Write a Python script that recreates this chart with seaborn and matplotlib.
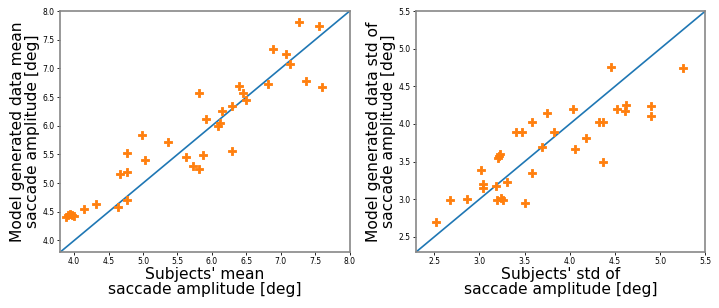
import numpy as np
import pandas as pd
import seaborn as sns
import matplotlib.pyplot as plt

# subject vs model: mean saccade amplitude [deg]
mean_subj = [3.88, 3.91, 3.94, 3.97, 4.00, 4.14, 4.31, 4.64, 4.76, 4.66,
             4.77, 4.77, 5.03, 4.98, 5.36, 5.62, 5.72, 5.82, 5.87, 5.81,
             5.92, 6.09, 6.12, 6.15, 6.29, 6.29, 6.40, 6.45, 6.50, 6.82,
             6.89, 7.07, 7.13, 7.37, 7.27, 7.55, 7.60]
mean_model = [4.41, 4.45, 4.47, 4.44, 4.43, 4.55, 4.63, 4.59, 4.71, 5.16,
              5.20, 5.52, 5.40, 5.84, 5.71, 5.46, 5.30, 5.24, 5.49, 6.57,
              6.11, 6.00, 6.05, 6.26, 6.35, 5.56, 6.69, 6.57, 6.45, 6.73,
              7.34, 7.25, 7.07, 6.78, 7.81, 7.74, 6.68]

# subject vs model: std of saccade amplitude [deg]
std_subj = [2.52, 2.68, 2.86, 3.02, 3.04, 3.04, 3.18, 3.19, 3.21, 3.22,
            3.23, 3.24, 3.26, 3.31, 3.41, 3.47, 3.51, 3.58, 3.58, 3.69,
            3.75, 3.82, 4.04, 4.06, 4.18, 4.32, 4.37, 4.37, 4.46, 4.52,
            4.61, 4.62, 4.90, 4.90, 5.25]
std_model = [2.70, 2.99, 3.00, 3.39, 3.20, 3.15, 3.18, 2.99, 3.55, 3.58,
             3.60, 3.02, 2.99, 3.23, 3.89, 3.89, 2.95, 3.35, 4.02, 3.69,
             4.14, 3.90, 4.20, 3.67, 3.82, 4.02, 4.02, 3.50, 4.76, 4.20,
             4.17, 4.25, 4.24, 4.11, 4.74]

mean_lims = [3.8, 8.0]
std_lims = [2.3, 5.5]

panels = [
    (mean_subj, mean_model, mean_lims,
     "Subjects' mean\nsaccade amplitude [deg]",
     "Model generated data mean\nsaccade amplitude [deg]"),
    (std_subj, std_model, std_lims,
     "Subjects' std of\nsaccade amplitude [deg]",
     "Model generated data std of\nsaccade amplitude [deg]"),
]

fig, axes = plt.subplots(1, 2, figsize=(7.19, 3.08), dpi=100)
fig.subplots_adjust(left=0.084, right=0.981, top=0.964, bottom=0.182, wspace=0.23)

for ax, (x, y, lims, xlab, ylab) in zip(axes, panels):
    df = pd.DataFrame({"subj": x, "model": y})
    ax.plot(lims, lims, color="#1f77b4", lw=1.2, zorder=1)
    sns.scatterplot(data=df, x="subj", y="model", ax=ax, marker="P",
                    color="#ff7f0e", s=34, edgecolor="#ff7f0e",
                    linewidth=0.6, zorder=2)
    ax.set_xlim(lims)
    ax.set_ylim(lims)
    ax.set_xlabel(xlab, fontsize=11.2, labelpad=0.5, linespacing=1.0)
    ax.set_ylabel(ylab, fontsize=11.2, labelpad=2, linespacing=1.0)
    ax.tick_params(labelsize=5.5, length=2.5, width=0.6, pad=1.5)
    for sp in ax.spines.values():
        sp.set_color("#888888")
        sp.set_linewidth(1.2)

fig.savefig("out.png", dpi=100)
